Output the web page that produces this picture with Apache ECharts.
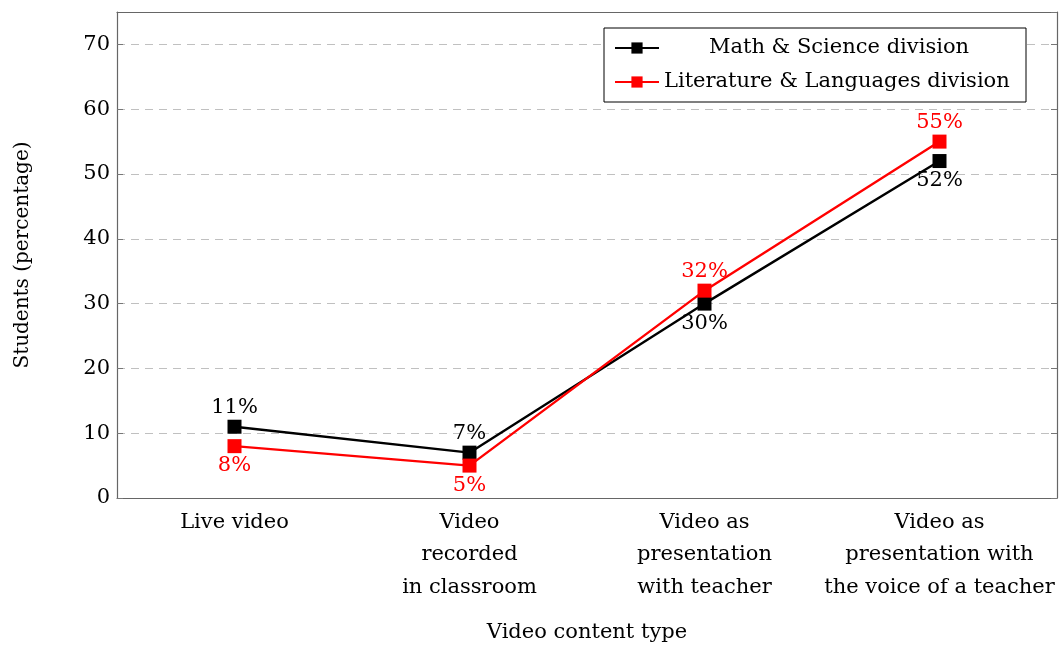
<!DOCTYPE html>
<html>
<head>
<meta charset="utf-8">
<script src="https://cdn.jsdelivr.net/npm/echarts@6/dist/echarts.min.js"></script>
<style>
  html, body { margin: 0; padding: 0; background: #fff; }
  #chart { width: 1059px; height: 646px; }
</style>
</head>
<body>
<div id="chart"></div>
<script>
// categories and values
var categories = [
  'Live video',
  'Video\nrecorded\nin classroom',
  'Video as\npresentation\nwith teacher',
  'Video as\npresentation with\nthe voice of a teacher'
];
var mathScience = [11, 7, 30, 52];
var litLanguages = [8, 5, 32, 55];
// where each value label sits, per point
var mathLabelPos = ['top', 'top', 'bottom', 'bottom'];
var litLabelPos = ['bottom', 'bottom', 'top', 'top'];
var yTicks = [0, 10, 20, 30, 40, 50, 60, 70];

var font = 'DejaVu Serif';
var axisGray = '#666';
var tickGray = '#777';

function withLabels(values, positions) {
  return values.map(function(v, i) {
    return {
      value: v,
      label: { position: positions[i] }
    };
  });
}

var chart = echarts.init(document.getElementById('chart'));

var option = {
  animation: false,
  textStyle: { fontFamily: font },
  grid: { left: 117, right: 2, top: 12, bottom: 148, outerBoundsMode: 'none', containLabel: false },
  legend: {
    orient: 'vertical',
    left: 604,
    top: 28,
    padding: [8, 12, 8, 10],
    itemGap: 10,
    itemWidth: 44,
    itemHeight: 14,
    borderColor: '#000',
    borderWidth: 1,
    backgroundColor: '#fff',
    textStyle: { fontFamily: font, fontSize: 21, color: '#000', lineHeight: 24 },
    data: [
      {
        name: 'Math & Science division',
        textStyle: {
          rich: { c: { width: 350, align: 'center', fontSize: 21, lineHeight: 24, fontFamily: font, color: '#000' } }
        }
      },
      { name: 'Literature & Languages division' }
    ],
    formatter: function(name) {
      if (name === 'Math & Science division') return '{c|' + name + '}';
      return name;
    }
  },
  xAxis: [
    {
      type: 'category',
      data: categories,
      boundaryGap: true,
      name: 'Video content type',
      nameLocation: 'middle',
      nameGap: 124,
      nameTextStyle: { fontFamily: font, fontSize: 21, color: '#000' },
      axisLine: { onZero: false, lineStyle: { color: axisGray, width: 1.2 } },
      axisTick: { inside: true, length: 7, alignWithLabel: true, lineStyle: { color: tickGray } },
      axisLabel: { fontFamily: font, fontSize: 21, color: '#000', lineHeight: 32.5, margin: 8, interval: 0 },
      splitLine: { show: false }
    },
    {
      type: 'category',
      data: categories,
      position: 'top',
      axisLine: { show: true, onZero: false, lineStyle: { color: axisGray, width: 1.2 } },
      axisTick: { inside: true, length: 7, alignWithLabel: true, lineStyle: { color: tickGray } },
      axisLabel: { show: false },
      splitLine: { show: false }
    }
  ],
  yAxis: [
    {
      type: 'value',
      min: 0,
      max: 75,
      interval: 10,
      name: 'Students (percentage)',
      nameLocation: 'middle',
      nameGap: 84,
      nameTextStyle: { fontFamily: font, fontSize: 20, color: '#000' },
      axisLine: { show: true, onZero: false, lineStyle: { color: axisGray, width: 1.2 } },
      axisTick: { show: true, inside: true, length: 6, lineStyle: { color: tickGray } },
      axisLabel: {
        fontFamily: font, fontSize: 21, color: '#000', margin: 7,
        showMaxLabel: false,
        formatter: function(v) { return yTicks.indexOf(v) >= 0 ? String(v) : ''; }
      },
      splitLine: { show: true, lineStyle: { color: '#c0c0c0', type: [8, 6], width: 1 } }
    },
    {
      type: 'value',
      min: 0,
      max: 75,
      interval: 10,
      position: 'right',
      axisLine: { show: true, onZero: false, lineStyle: { color: axisGray, width: 1.2 } },
      axisTick: { show: true, inside: true, length: 6, lineStyle: { color: tickGray } },
      axisLabel: { show: false },
      splitLine: { show: false }
    }
  ],
  series: [
    {
      name: 'Math & Science division',
      type: 'line',
      data: withLabels(mathScience, mathLabelPos),
      color: '#000',
      symbol: 'rect',
      symbolSize: 14,
      lineStyle: { color: '#000', width: 2.4 },
      itemStyle: { color: '#000' },
      label: {
        show: true,
        distance: 2,
        fontFamily: font,
        fontSize: 21,
        color: '#000',
        formatter: '{c}%'
      },
      z: 3
    },
    {
      name: 'Literature & Languages division',
      type: 'line',
      data: withLabels(litLanguages, litLabelPos),
      color: '#f00',
      symbol: 'rect',
      symbolSize: 14,
      lineStyle: { color: '#f00', width: 2.4 },
      itemStyle: { color: '#f00' },
      label: {
        show: true,
        distance: 2,
        fontFamily: font,
        fontSize: 21,
        color: '#f00',
        formatter: '{c}%'
      },
      z: 4
    }
  ]
};

chart.setOption(option);
</script>
</body>
</html>
